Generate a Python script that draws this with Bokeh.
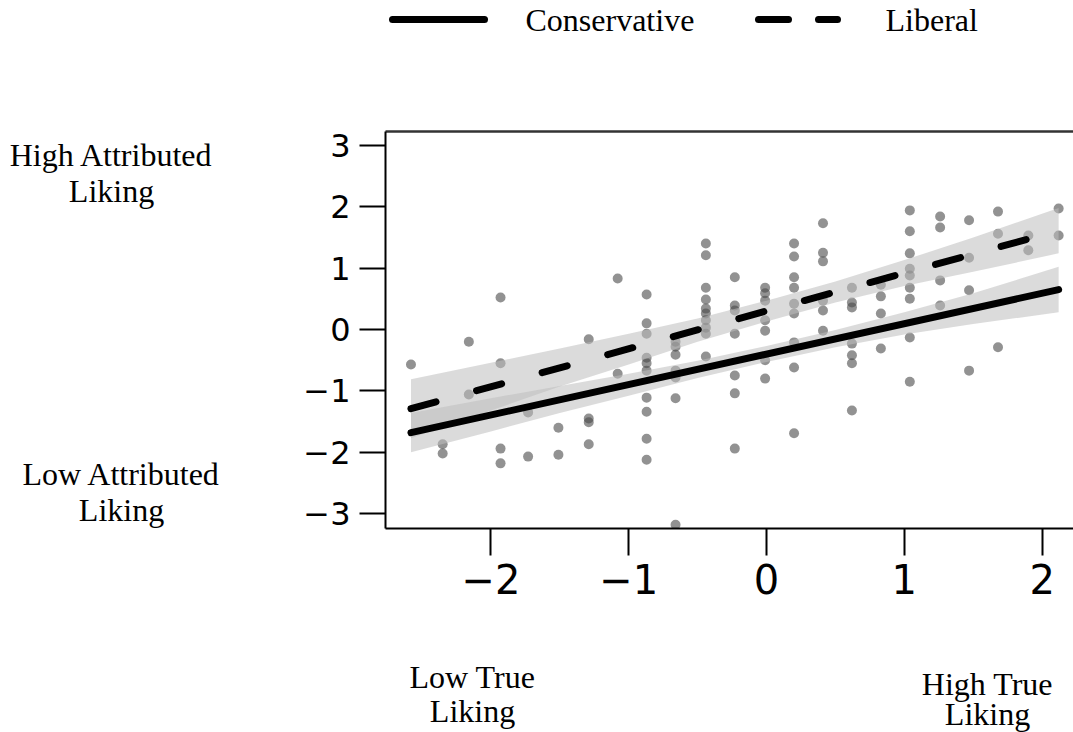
from bokeh.plotting import figure
from bokeh.models import Range1d, FixedTicker, LinearAxis
from bokeh.layouts import gridplot
from bokeh.embed import file_html
from bokeh.resources import INLINE
from bokeh.core.properties import value

# ---------------- data ----------------
pts_x = [
    -2.58,
    -2.35, -2.35,
    -2.16, -2.16,
    -1.93, -1.93, -1.93, -1.93,
    -1.73, -1.73,
    -1.51, -1.51,
    -1.29, -1.29, -1.29, -1.29,
    -1.08, -1.08,
    -0.87, -0.87, -0.87, -0.87, -0.87, -0.87, -0.87, -0.87, -0.87, -0.87,
    -0.66, -0.66, -0.66, -0.66, -0.66, -0.66, -0.66,
    -0.44, -0.44, -0.44, -0.44, -0.44, -0.44, -0.44, -0.44, -0.44, -0.44,
    -0.23, -0.23, -0.23, -0.23, -0.23, -0.23, -0.23,
    -0.01, -0.01, -0.01, -0.01, -0.01, -0.01, -0.01,
    0.20, 0.20, 0.20, 0.20, 0.20, 0.20, 0.20, 0.20, 0.20,
    0.41, 0.41, 0.41, 0.41, 0.41, 0.41,
    0.62, 0.62, 0.62, 0.62, 0.62, 0.62, 0.62,
    0.83, 0.83, 0.83, 0.83,
    1.04, 1.04, 1.04, 1.04, 1.04, 1.04, 1.04, 1.04, 1.04,
    1.26, 1.26, 1.26, 1.26,
    1.47, 1.47, 1.47, 1.47,
    1.68, 1.68, 1.68,
    1.90, 1.90,
    2.12, 2.12,
]
pts_y = [
    -0.57,
    -1.87, -2.02,
    -0.20, -1.06,
    0.52, -0.55, -1.94, -2.18,
    -1.35, -2.07,
    -1.60, -2.04,
    -0.16, -1.45, -1.51, -1.87,
    0.83, -0.72,
    0.57, 0.10, -0.07, -0.46, -0.55, -0.67, -1.11, -1.34, -1.78, -2.12,
    -0.20, -0.28, -0.41, -0.67, -0.78, -1.12, -3.18,
    1.40, 1.21, 0.68, 0.49, 0.34, 0.26, 0.15, 0.03, -0.07, -0.44,
    0.85, 0.39, 0.31, -0.07, -0.75, -1.04, -1.94,
    0.68, 0.59, 0.47, 0.15, -0.02, -0.50, -0.80,
    1.40, 1.19, 0.85, 0.68, 0.42, 0.26, -0.21, -0.62, -1.69,
    1.73, 1.25, 1.11, 0.47, 0.31, -0.02,
    0.68, 0.44, 0.36, -0.23, -0.42, -0.55, -1.32,
    0.73, 0.54, 0.26, -0.31,
    1.94, 1.60, 1.24, 0.99, 0.88, 0.68, 0.50, -0.13, -0.85,
    1.84, 1.66, 0.80, 0.39,
    1.78, 1.17, 0.64, -0.67,
    1.92, 1.56, -0.29,
    1.53, 1.29,
    1.97, 1.53,
]

fit_x = [-2.58, 2.12]
cons_fit = [-1.68, 0.65]
lib_fit = [-1.29, 1.61]

band_x = [-2.58, -2.0, -1.5, -1.0, -0.5, 0.0, 0.5, 1.0, 1.5, 2.12]
lib_hi = [-0.81, -0.54, -0.31, -0.07, 0.18, 0.47, 0.78, 1.13, 1.50, 1.98]
lib_lo = [-1.77, -1.32, -0.93, -0.57, -0.20, 0.13, 0.44, 0.71, 0.94, 1.24]
cons_hi = [-1.36, -1.12, -0.92, -0.72, -0.51, -0.27, -0.01, 0.28, 0.59, 1.02]
cons_lo = [-2.00, -1.66, -1.36, -1.08, -0.79, -0.53, -0.29, -0.08, 0.09, 0.28]

x_ticks = [-2, -1, 0, 1, 2]
y_ticks = [-3, -2, -1, 0, 1, 2, 3]
legend_labels = ["Conservative", "Liberal"]
left_texts = ["High Attributed", "Liking", "Low Attributed", "Liking"]
bottom_texts = ["Low True", "Liking", "High True", "Liking"]

# ---------------- layout (page pixels) ----------------
W, H = 1073, 732
X0, XS = 766.0, 137.8   # page x of data 0, px per unit
Y0, YS = 329.0, 61.4    # page y of data 0, px per unit


def dx(px):
    return (px - X0) / XS


def dy(py):
    return (Y0 - py) / YS


COL0 = 240              # width of left text column
ROW0 = 60               # legend strip height
ROW1 = 600              # main plot height
ROW2 = H - ROW0 - ROW1  # bottom text strip height
FR_L, FR_R, FR_T, FR_B = 385, 1073, 131, 528
B_LEFT = FR_L - COL0
B_TOP = FR_T - ROW0
B_BOT = ROW0 + ROW1 - FR_B
SERIF = "Liberation Serif"
SANS = "DejaVu Sans"
SERIF_SIZE = "32px"


def blank(width, height, xr, yr, bl=0, br=0, bt=0, bb=0):
    f = figure(width=width, height=height, x_range=Range1d(*xr), y_range=Range1d(*yr),
               output_backend="svg", toolbar_location=None,
               min_border_left=bl, min_border_right=br,
               min_border_top=bt, min_border_bottom=bb,
               x_axis_type=None, y_axis_type=None)
    f.outline_line_color = None
    f.background_fill_color = "white"
    f.border_fill_color = "white"
    return f


# ---------------- legend strip ----------------
leg = blank(W - COL0, ROW0, (FR_L, FR_R), (ROW0, 0), bl=B_LEFT)
leg.line([392, 484], [19, 19], line_width=7, line_color="black", line_cap="round")
leg.line([758, 837], [19, 19], line_width=7, line_color="black", line_cap="round",
         line_dash="30 30")
leg.text(x=[525, 885], y=[19, 19], text=legend_labels, text_font=value(SERIF),
         text_font_size=SERIF_SIZE, text_align="left", text_baseline="alphabetic",
         text_color="black")

# ---------------- left text column ----------------
lft = blank(COL0, ROW1, (0, COL0), (FR_B, FR_T), bt=B_TOP, bb=B_BOT)
lft.text(x=[111, 111, 121, 121], y=[154, 190, 473, 509], text=left_texts,
         text_font=value(SERIF), text_font_size=SERIF_SIZE, text_align="center",
         text_baseline="alphabetic", text_color="black")

# ---------------- bottom text strip ----------------
bot = blank(W - COL0, ROW2, (FR_L, FR_R), (H, ROW0 + ROW1), bl=B_LEFT)
bot.text(x=[472, 472, 987, 987], y=[676, 710, 683, 713], text=bottom_texts,
         text_font=value(SERIF), text_font_size=SERIF_SIZE, text_align="center",
         text_baseline="alphabetic", text_color="black")

# ---------------- main plot ----------------
p = figure(width=W - COL0, height=ROW1,
           x_range=Range1d(dx(FR_L), dx(FR_R)), y_range=Range1d(dy(FR_B), dy(FR_T)),
           output_backend="svg", toolbar_location=None,
           min_border_left=B_LEFT, min_border_right=0,
           min_border_top=B_TOP, min_border_bottom=B_BOT)
p.grid.visible = False
p.outline_line_color = None
p.background_fill_color = "white"
p.border_fill_color = "white"

p.scatter(pts_x, pts_y, size=10, fill_color="#4a4a4a", fill_alpha=0.6, line_color=None)
p.varea(x=band_x, y1=lib_lo, y2=lib_hi, fill_color="#bdbdbd", fill_alpha=0.55)
p.varea(x=band_x, y1=cons_lo, y2=cons_hi, fill_color="#bdbdbd", fill_alpha=0.55)
p.line(fit_x, cons_fit, line_width=7, line_color="black", line_cap="round")
p.line(fit_x, lib_fit, line_width=7, line_color="black", line_cap="round",
       line_dash="26 42")

xa = p.xaxis[0]
xa.ticker = FixedTicker(ticks=x_ticks)
xa.major_label_overrides = {t: str(t).replace("-", "\u2212") for t in x_ticks}
xa.major_tick_out = 27
xa.major_tick_in = 0
xa.minor_tick_out = 0
xa.minor_tick_in = 0
xa.axis_line_width = 2
xa.major_tick_line_width = 2
xa.major_label_standoff = 8
xa.major_label_text_font = SANS
xa.major_label_text_font_size = "40px"
xa.major_label_text_color = "black"

ya = p.yaxis[0]
ya.ticker = FixedTicker(ticks=y_ticks)
ya.major_label_overrides = {t: str(t).replace("-", "\u2212") for t in y_ticks}
ya.major_tick_out = 26
ya.major_tick_in = 0
ya.minor_tick_out = 0
ya.minor_tick_in = 0
ya.axis_line_width = 2
ya.major_tick_line_width = 2
ya.major_label_standoff = 9
ya.major_label_text_font = SANS
ya.major_label_text_font_size = "32px"
ya.major_label_text_color = "black"

top = LinearAxis(ticker=FixedTicker(ticks=[]), major_tick_out=0, major_tick_in=0,
                 minor_tick_out=0, minor_tick_in=0, major_label_text_font_size="0px",
                 axis_line_width=2.5, axis_line_color="#333333")
p.add_layout(top, "above")

grid = gridplot([[None, leg], [lft, p], [None, bot]], toolbar_location=None)
open("out.html", "w").write(file_html(grid, INLINE))
